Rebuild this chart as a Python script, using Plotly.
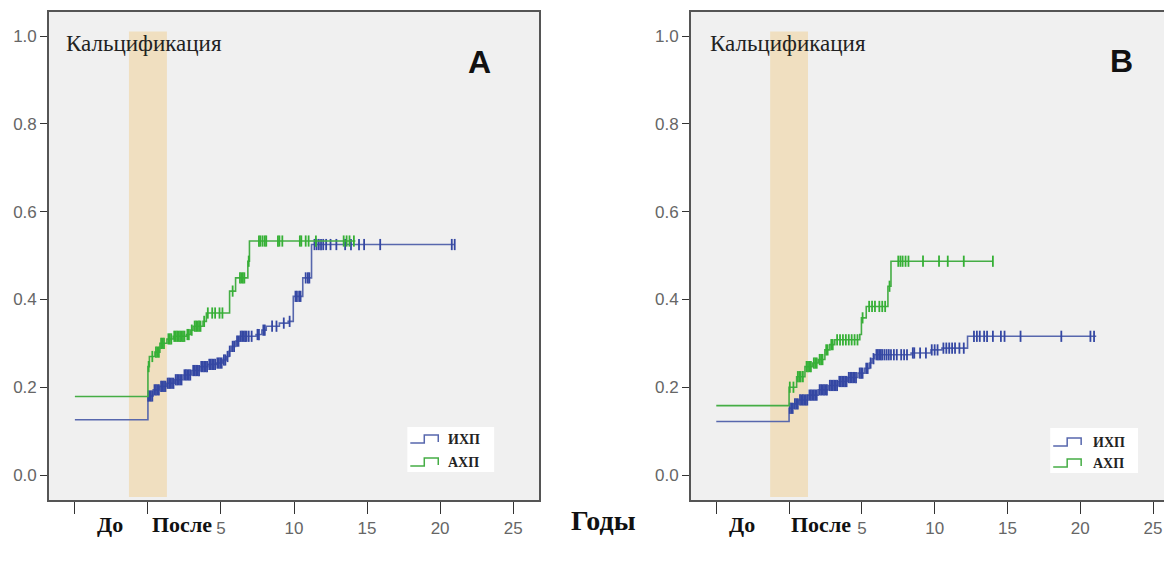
import numpy as np
import plotly.graph_objects as go

# ---------------- data ----------------
x_tick_vals = [-5, 0, 5, 10, 15, 20, 25]
x_tick_text = ["", "", "5", "10", "15", "20", "25"]
y_tick_vals = [0.0, 0.2, 0.4, 0.6, 0.8, 1.0]
y_tick_text = ["0.0", "0.2", "0.4", "0.6", "0.8", "1.0"]
series_names = ["ИХП", "АХП"]

# Panel A, ИХП (step times and cumulative values after each step)
a_ihp_t = [-5, 0, 0.36, 0.8, 1.27, 1.8, 2.4, 3.0, 3.55, 4.1, 4.68, 5.1, 5.36, 5.55, 5.7, 6.0,
           6.27, 7.4, 7.8, 8.1, 9.0, 9.6, 9.95, 10.6, 11.2, 21.0]
a_ihp_v = [0.126, 0.18, 0.194, 0.202, 0.209, 0.217, 0.228, 0.238, 0.247, 0.252, 0.255, 0.262,
           0.27, 0.282, 0.293, 0.305, 0.316, 0.32, 0.33, 0.339, 0.346, 0.35, 0.407, 0.449,
           0.525, 0.525]
a_ihp_cens = [0.02, 0.1, 0.2, 0.3, 0.45, 0.55, 0.65, 0.75, 0.9, 1.0, 1.1, 1.2, 1.35, 1.45, 1.55,
              1.65, 1.75, 1.9, 2.0, 2.1, 2.2, 2.3, 2.5, 2.6, 2.7, 2.8, 2.9, 3.1, 3.2, 3.3, 3.4,
              3.5, 3.65, 3.75, 3.85, 3.95, 4.05, 4.2, 4.3, 4.4, 4.5, 4.6, 4.75, 4.85, 4.95, 5.05,
              5.2, 5.3, 5.45, 5.6, 5.8, 5.9, 6.1, 6.2, 6.35, 6.45, 6.55, 6.65, 6.75, 6.9, 7.1,
              7.5, 7.6, 7.9, 8.0, 8.5, 8.8, 9.3, 9.7, 10.1, 10.2, 10.35, 10.45, 10.8, 10.95,
              11.05, 11.4, 11.55, 11.7, 11.85, 12.0, 12.2, 12.5, 12.9, 13.5, 13.9, 14.45, 14.8,
              15.9, 20.8, 21.0]

# Panel A, АХП
a_ahp_t = [-5, 0, 0.1, 0.48, 0.82, 1.3, 1.73, 2.64, 2.9, 3.09, 3.77, 4.0, 5.59, 6.0, 6.84,
           6.95, 14.2]
a_ahp_v = [0.179, 0.247, 0.27, 0.28, 0.30, 0.31, 0.316, 0.32, 0.33, 0.339, 0.35, 0.369, 0.419,
           0.449, 0.487, 0.533, 0.533]
a_ahp_cens = [0.05, 0.3, 0.55, 0.65, 0.75, 0.9, 1.0, 1.1, 1.4, 1.5, 1.6, 1.8, 1.9, 2.0, 2.1,
              2.2, 2.3, 2.4, 2.5, 2.7, 2.8, 3.0, 3.2, 3.3, 3.4, 3.5, 3.6, 3.85, 4.1, 4.4, 4.6,
              4.9, 5.1, 5.8, 6.3, 6.4, 6.5, 6.6, 6.9, 7.6, 7.7, 7.85, 8.0, 8.1, 8.9, 9.0, 9.2,
              10.4, 10.5, 10.8, 11.0, 11.5, 13.4, 13.6, 13.8, 14.1]

# Panel B, ИХП
b_ihp_t = [-5, 0, 0.3, 0.63, 1.3, 2.0, 2.7, 3.36, 4.0, 4.73, 5.2, 5.53, 5.7, 5.88, 8.38, 9.75,
           10.5, 12.26, 21.1]
b_ihp_v = [0.122, 0.152, 0.162, 0.171, 0.182, 0.194, 0.204, 0.213, 0.222, 0.232, 0.243, 0.255,
           0.265, 0.274, 0.278, 0.285, 0.289, 0.316, 0.316]
b_ihp_cens = [0.05, 0.15, 0.25, 0.4, 0.5, 0.6, 0.75, 0.85, 0.95, 1.05, 1.15, 1.25, 1.4, 1.5,
              1.6, 1.7, 1.8, 1.9, 2.1, 2.2, 2.3, 2.4, 2.5, 2.6, 2.8, 2.9, 3.0, 3.1, 3.2, 3.3,
              3.45, 3.55, 3.65, 3.75, 3.85, 3.95, 4.1, 4.2, 4.3, 4.4, 4.5, 4.6, 4.85, 4.95,
              5.05, 5.3, 5.4, 5.6, 5.8, 6.0, 6.1, 6.2, 6.3, 6.4, 6.55, 6.7, 6.85, 7.0, 7.2,
              7.4, 7.7, 7.9, 8.1, 8.5, 8.6, 9.0, 9.4, 9.8, 10.0, 10.2, 10.6, 10.8, 11.0, 11.2,
              11.4, 11.7, 12.0, 12.7, 12.9, 13.1, 13.4, 13.6, 14.0, 14.55, 14.8, 15.9, 18.7,
              20.7, 20.95]

# Panel B, АХП
b_ahp_t = [-5, 0, 0.52, 1.09, 1.6, 2.0, 2.46, 2.8, 3.14, 4.86, 4.97, 5.3, 6.79, 7.0, 14.0]
b_ahp_v = [0.158, 0.20, 0.224, 0.247, 0.255, 0.263, 0.285, 0.297, 0.308, 0.32, 0.358, 0.384,
           0.43, 0.487, 0.487]
b_ahp_cens = [0.05, 0.3, 0.6, 0.7, 0.8, 0.95, 1.2, 1.3, 1.4, 1.5, 1.7, 1.8, 1.9, 2.1, 2.2, 2.3,
              2.55, 2.65, 2.9, 3.0, 3.3, 3.5, 3.7, 3.9, 4.1, 4.3, 4.5, 4.7, 5.05, 5.5, 5.7,
              5.9, 6.2, 6.4, 6.6, 6.9, 7.5, 7.65, 7.8, 8.0, 8.2, 9.2, 10.3, 10.9, 12.0, 14.0]

# ---------------- styles ----------------
LINE_COL = {"ИХП": "#5767ad", "АХП": "#45ad45"}
MARK_COL = {"ИХП": "#3447a3", "АХП": "#35b035"}
BAND_COL = "#f0dfc0"
PLOT_BG = "#f0f0f0"
SERIF = "Liberation Serif"
SANS = "Liberation Sans"

OFF = 8                      # page body margin
W, H = 1172 - OFF, 567 - 2 * OFF


def px_x(px):
    return (px - OFF) / W


def px_y(py):
    return 1 - (py - OFF) / H


def step_value(times, values, x):
    idx = np.searchsorted(np.asarray(times), np.asarray(x), side="right") - 1
    idx = np.clip(idx, 0, len(values) - 1)
    return np.asarray(values)[idx]


fig = go.Figure()

panels = [
    dict(xa="x", ya="y",
         data={"ИХП": (a_ihp_t, a_ihp_v, a_ihp_cens), "АХП": (a_ahp_t, a_ahp_v, a_ahp_cens)}),
    dict(xa="x2", ya="y2",
         data={"ИХП": (b_ihp_t, b_ihp_v, b_ihp_cens), "АХП": (b_ahp_t, b_ahp_v, b_ahp_cens)}),
]

for p in panels:
    for name in series_names:
        t, v, c = p["data"][name]
        fig.add_trace(go.Scatter(
            x=t, y=v, mode="lines", line=dict(color=LINE_COL[name], width=1.6, shape="hv"),
            name=name, xaxis=p["xa"], yaxis=p["ya"], showlegend=False,
        ))
        fig.add_trace(go.Scatter(
            x=c, y=step_value(t, v, c), mode="markers",
            marker=dict(symbol="line-ns", size=8, line=dict(color=MARK_COL[name], width=1.8)),
            xaxis=p["xa"], yaxis=p["ya"], showlegend=False, hoverinfo="skip",
        ))

y_dom = [px_y(500), px_y(12)]
y_rng = [-0.0569, 1.0547]

axis_common = dict(
    showgrid=False, zeroline=False, showline=True, mirror=True,
    linecolor="#555555", linewidth=1.5, ticks="outside", tickcolor="#333333",
    tickfont=dict(family=SANS, size=17, color="#666666"),
)

fig.update_layout(
    width=W, height=H, margin=dict(l=0, r=0, t=0, b=0),
    paper_bgcolor="white", plot_bgcolor=PLOT_BG, showlegend=False,
    xaxis=dict(domain=[px_x(49), px_x(540)], range=[-6.777, 26.777], anchor="y",
               tickvals=x_tick_vals, ticktext=x_tick_text, ticklen=12, **axis_common),
    yaxis=dict(domain=y_dom, range=y_rng, anchor="x",
               tickvals=y_tick_vals, ticktext=y_tick_text, ticklen=7, **axis_common),
    xaxis2=dict(domain=[px_x(692), 1.0], range=[-6.749, 26.166], anchor="y2",
                tickvals=x_tick_vals, ticktext=x_tick_text, ticklen=12, **axis_common),
    yaxis2=dict(domain=y_dom, range=y_rng, anchor="x2",
                tickvals=y_tick_vals, ticktext=y_tick_text, ticklen=7, **axis_common),
)

# shaded "surgery" bands
for xr, yr in [("x", "y"), ("x2", "y2")]:
    fig.add_shape(type="rect", xref=xr, yref=yr, x0=-1.3, x1=1.3, y0=-0.05, y1=1.01,
                  fillcolor=BAND_COL, line=dict(width=0), layer="below")

ann = []

# custom legends with step icons
legend_boxes = [
    dict(x0=408, x1=495, y0=427, y1=472, icon_x=411, text_x=447, rows=[439, 462]),
    dict(x0=1052, x1=1140, y0=428, y1=473, icon_x=1055, text_x=1093, rows=[442, 463]),
]
for lb in legend_boxes:
    fig.add_shape(type="rect", xref="paper", yref="paper",
                  x0=px_x(lb["x0"]), x1=px_x(lb["x1"]), y0=px_y(lb["y1"]), y1=px_y(lb["y0"]),
                  fillcolor="white", line=dict(width=0), layer="above")
    for name, ry in zip(series_names, lb["rows"]):
        ix = lb["icon_x"]
        path = (f"M {px_x(ix)},{px_y(ry + 4)} L {px_x(ix + 14)},{px_y(ry + 4)} "
                f"L {px_x(ix + 14)},{px_y(ry - 4)} L {px_x(ix + 28)},{px_y(ry - 4)} "
                f"L {px_x(ix + 28)},{px_y(ry + 3)}")
        fig.add_shape(type="path", xref="paper", yref="paper", path=path,
                      line=dict(color=LINE_COL[name], width=1.5), layer="above")
        ann.append(dict(text=f"<b>{name}</b>", xref="paper", yref="paper",
                        x=px_x(lb["text_x"]), y=px_y(ry), xanchor="left", yanchor="middle",
                        showarrow=False, font=dict(family=SERIF, size=14, color="#222222")))

# panel titles and letters
ann.append(dict(text="Кальцификация", xref="paper", yref="paper", x=px_x(64), y=px_y(43),
                xanchor="left", yanchor="middle", showarrow=False,
                font=dict(family=SERIF, size=23, color="#222222")))
ann.append(dict(text="Кальцификация", xref="paper", yref="paper", x=px_x(709), y=px_y(43),
                xanchor="left", yanchor="middle", showarrow=False,
                font=dict(family=SERIF, size=23, color="#222222")))
ann.append(dict(text="<b>A</b>", xref="paper", yref="paper", x=px_x(480), y=px_y(62),
                xanchor="center", yanchor="middle", showarrow=False,
                font=dict(family=SANS, size=32, color="#111111")))
ann.append(dict(text="<b>B</b>", xref="paper", yref="paper", x=px_x(1123), y=px_y(61),
                xanchor="center", yanchor="middle", showarrow=False,
                font=dict(family=SANS, size=32, color="#111111")))
# До / После labels
for xr, xdo, xposle in [("x", -2.6, 2.3), ("x2", -3.2, 2.2)]:
    ann.append(dict(text="<b>До</b>", xref=xr, yref="paper", x=xdo, y=px_y(524),
                    xanchor="center", yanchor="middle", showarrow=False,
                    font=dict(family=SERIF, size=22, color="#111111")))
    ann.append(dict(text="<b>После</b>", xref=xr, yref="paper", x=xposle, y=px_y(524),
                    xanchor="center", yanchor="middle", showarrow=False,
                    font=dict(family=SERIF, size=22, color="#111111")))
ann.append(dict(text="<b>Годы</b>", xref="paper", yref="paper", x=px_x(605), y=px_y(520),
                xanchor="center", yanchor="middle", showarrow=False,
                font=dict(family=SERIF, size=28, color="#111111")))
fig.update_layout(annotations=ann)

fig.write_html("out.html")
